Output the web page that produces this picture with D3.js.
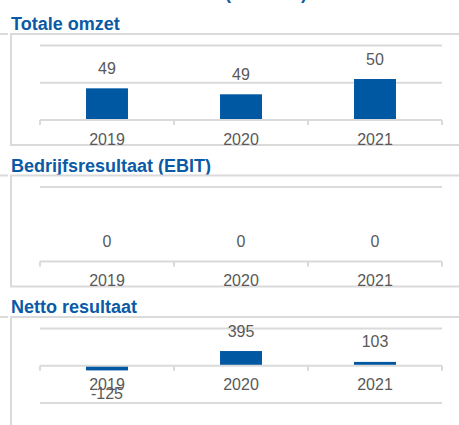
<!DOCTYPE html>
<html>
<head>
<meta charset="utf-8">
<script src="https://cdn.jsdelivr.net/npm/d3@7"></script>
<style>
  html, body { margin: 0; padding: 0; background: #ffffff; }
  svg { display: block; font-family: "Liberation Sans", Arial, sans-serif; }
</style>
</head>
<body>
<svg id="chart" width="459" height="425"></svg>
<script>
// Years shown on each category axis
const years = ["2019", "2020", "2021"];

// Totale omzet (x €1.000)
const omzetValues = [49.35, 49.19, 49.6];
const omzetGrid = [48.5, 49.5, 50.5];

// Bedrijfsresultaat (EBIT)
const ebitValues = [0, 0, 0];
const ebitGrid = [0, 1];

// Netto resultaat
const nettoValues = [-125, 395, 103];
const nettoGrid = [-1000, 0, 1000];

const panelTitles = ["Totale omzet", "Bedrijfsresultaat (EBIT)", "Netto resultaat"];

const panels = [
  { title: panelTitles[0], values: omzetValues, grid: omzetGrid },
  { title: panelTitles[1], values: ebitValues, grid: ebitGrid },
  { title: panelTitles[2], values: nettoValues, grid: nettoGrid }
];

const W = 459, H = 425;
const BLUE = "#0a5aa5";
const BAR = "#0057a2";
const LINE = "#dadada";
const TEXT = "#595959";

const svg = d3.select("#chart");

// Page heading (sits above the visible area)
svg.append("text")
  .attr("x", 307).attr("y", -1)
  .attr("text-anchor", "end")
  .attr("font-size", 18).attr("font-weight", "bold")
  .attr("fill", BLUE)
  .text("Resultaten (x €1.000)");

const x = d3.scaleBand()
  .domain(years)
  .range([40, 442])
  .paddingInner(0.687)
  .paddingOuter(0.3435);

// plain hyphen for negative numbers
const fmt = d3.formatLocale({
  decimal: ".", thousands: ",", grouping: [3], currency: ["", ""], minus: "-"
}).format(".0f");
const panelStep = 141.5;

panels.forEach((p, i) => {
  const boxTop = 34 + i * panelStep;
  const g = svg.append("g");

  // title
  g.append("text")
    .attr("x", 11).attr("y", boxTop - 4)
    .attr("font-size", 18).attr("font-weight", "bold")
    .attr("fill", BLUE)
    .text(p.title);

  // frame: short rule on the left and the open box
  g.append("line")
    .attr("x1", 0).attr("x2", 8).attr("y1", boxTop).attr("y2", boxTop)
    .attr("stroke", LINE).attr("stroke-width", 2);
  g.append("path")
    .attr("d", `M${W + 5},${boxTop}H11V${boxTop + 111}H${W + 5}`)
    .attr("fill", "none").attr("stroke", LINE).attr("stroke-width", 2);

  const plotTop = boxTop + 11.5, plotBottom = boxTop + 86;
  const dom = d3.extent(p.grid);
  const y = d3.scaleLinear().domain(dom).range([plotBottom, plotTop]);
  const base = Math.max(dom[0], Math.min(0, dom[1]));

  // gridlines
  g.selectAll(".grid").data(p.grid.filter(v => v !== base)).join("line")
    .attr("x1", x.range()[0]).attr("x2", x.range()[1])
    .attr("y1", d => y(d)).attr("y2", d => y(d))
    .attr("stroke", LINE).attr("stroke-width", 2);

  // bars
  g.selectAll(".bar").data(p.values).join("rect")
    .attr("x", (d, j) => x(years[j]))
    .attr("width", x.bandwidth())
    .attr("y", d => Math.min(y(d), y(base)))
    .attr("height", d => Math.abs(y(d) - y(base)))
    .attr("fill", BAR);

  // category axis with ticks on the band boundaries
  const y0 = y(base);
  const bounds = [x.range()[0]].concat(years.map(yr => x(yr) + x.bandwidth() / 2 + x.step() / 2));
  g.append("line")
    .attr("x1", x.range()[0]).attr("x2", x.range()[1])
    .attr("y1", y0).attr("y2", y0)
    .attr("stroke", LINE).attr("stroke-width", 2);
  g.selectAll(".tick").data(bounds).join("line")
    .attr("x1", d => d).attr("x2", d => d)
    .attr("y1", y0).attr("y2", y0 + 5)
    .attr("stroke", LINE).attr("stroke-width", 2);

  // year labels
  g.selectAll(".year").data(years).join("text")
    .attr("x", d => x(d) + x.bandwidth() / 2)
    .attr("y", y0 + 24.5)
    .attr("text-anchor", "middle")
    .attr("font-size", 16).attr("fill", TEXT)
    .text(d => d);

  // value labels
  g.selectAll(".val").data(p.values).join("text")
    .attr("x", (d, j) => x(years[j]) + x.bandwidth() / 2)
    .attr("y", d => d < base ? y(d) + 29 : y(d) - 14.5)
    .attr("text-anchor", "middle")
    .attr("font-size", 16).attr("fill", TEXT)
    .text(d => fmt(d));
});
</script>
</body>
</html>
